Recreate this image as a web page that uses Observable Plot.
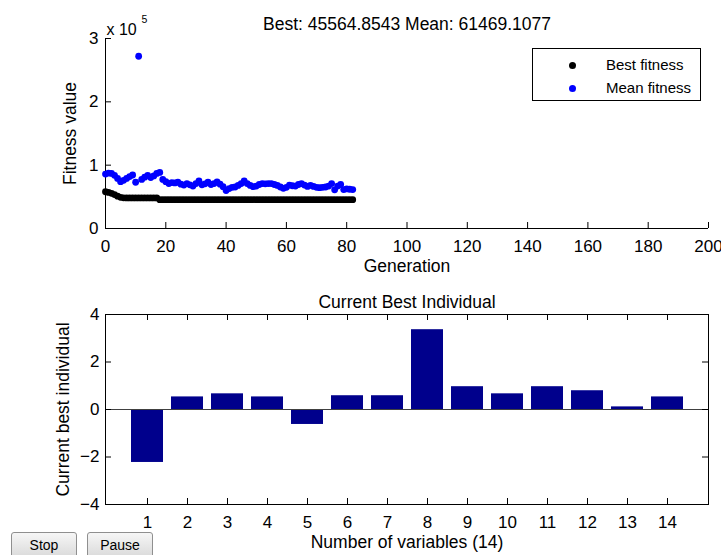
<!DOCTYPE html>
<html><head><meta charset="utf-8">
<script src="https://cdn.jsdelivr.net/npm/d3@7"></script>
<script src="https://cdn.jsdelivr.net/npm/@observablehq/plot@0.6"></script>
<style>
html,body{margin:0;padding:0;background:#fff;}
body{font-family:"Liberation Sans",Arial,Helvetica,sans-serif;}
#wrap{position:relative;width:721px;height:555px;overflow:hidden;background:#fff;}
#wrap svg{position:absolute;left:0;}
.legend{position:absolute;left:532px;top:48px;width:167px;height:51px;border:1px solid #000;background:#fff;font-size:15px;color:#000;}
.legend .row{position:absolute;left:0;height:20px;line-height:20px;}
.legend .mk{position:absolute;left:36px;top:6.5px;width:7px;height:7px;border-radius:50%;}
.legend .tx{position:absolute;left:73px;top:0;white-space:nowrap;}
.btn{position:absolute;top:532px;height:26px;width:66px;box-sizing:border-box;border:1px solid #8f8f8f;border-radius:3px;background:linear-gradient(#f6f6f6,#dadada);font-size:14px;text-align:center;line-height:24px;color:#000;}
</style>
</head><body>
<div id="wrap"></div>
<script>
// ---------- data ----------
const titleText = "Best: 45564.8543 Mean: 61469.1077";
const bestFitness = [
  58000, 57000, 55500, 53500, 51000, 49200, 48500,
  48300, 48300, 48300, 48300, 48300, 48300, 48300, 48300, 48300, 48300, 48300,
  45564.8543, 45564.8543, 45564.8543, 45564.8543, 45564.8543, 45564.8543, 45564.8543, 45564.8543, 45564.8543, 45564.8543,
  45564.8543, 45564.8543, 45564.8543, 45564.8543, 45564.8543, 45564.8543, 45564.8543, 45564.8543, 45564.8543, 45564.8543,
  45564.8543, 45564.8543, 45564.8543, 45564.8543, 45564.8543, 45564.8543, 45564.8543, 45564.8543, 45564.8543, 45564.8543,
  45564.8543, 45564.8543, 45564.8543, 45564.8543, 45564.8543, 45564.8543, 45564.8543, 45564.8543, 45564.8543, 45564.8543,
  45564.8543, 45564.8543, 45564.8543, 45564.8543, 45564.8543, 45564.8543, 45564.8543, 45564.8543, 45564.8543, 45564.8543,
  45564.8543, 45564.8543, 45564.8543, 45564.8543, 45564.8543, 45564.8543, 45564.8543, 45564.8543, 45564.8543, 45564.8543,
  45564.8543, 45564.8543, 45564.8543, 45564.8543, 45564.8543
];
const meanFitness = [
  86000, 87500, 87000, 84000, 79000, 74000, 76000, 79000, 82000, 84500,
  73000, 272000, 77500, 81000, 84000, 80500, 83000, 87000, 88500, 77500,
  74000, 71000, 72500, 72000, 73000, 70000, 68500, 71000, 69000, 67000,
  71000, 75000, 69000, 70500, 73000, 69500, 71000, 73500, 70000, 66000,
  60000, 63000, 65000, 65500, 68000, 71000, 75000, 71000, 68000, 66000,
  67000, 69500, 71000, 70500, 71000, 71000, 69500, 68000, 65500, 63500,
  65000, 68500, 67500, 67000, 69500, 71000, 68500, 66500, 68000, 66500,
  65000, 64500, 65000, 65500, 67000, 71000, 61000, 67000, 69500, 61500,
  62500, 62000, 61469.1077
];
const genTicks = [0, 20, 40, 60, 80, 100, 120, 140, 160, 180, 200];
const fitTicks = [0, 100000, 200000, 300000];
const variables = [1, 2, 3, 4, 5, 6, 7, 8, 9, 10, 11, 12, 13, 14];
const bestIndividual = [-2.23, 0.53, 0.66, 0.53, -0.63, 0.58, 0.58, 3.36, 0.96, 0.66, 0.96, 0.79, 0.11, 0.53];
const indTicks = [-4, -2, 0, 2, 4];

// ---------- layout/style ----------
const FONT = '"Liberation Sans", Arial, Helvetica, sans-serif';
const W = 721;
const TOP_H = 280, BOT_H = 275;
const ML = 105, MR = 13;
const PW = W - ML - MR;
const TICK = 6;

const bestData = bestFitness.map((v, i) => ({gen: i, v}));
const meanData = meanFitness.map((v, i) => ({gen: i, v}));
const barData = variables.map((k, i) => ({k, v: bestIndividual[i]}));

const topMT = 38, topMB = 52, topPH = TOP_H - topMT - topMB;
const topChart = Plot.plot({
  width: W, height: TOP_H,
  marginLeft: ML, marginRight: MR, marginTop: topMT, marginBottom: topMB,
  style: {fontFamily: FONT, fontSize: "17px", color: "#000", background: "transparent", overflow: "visible"},
  x: {domain: [0, 200]},
  y: {domain: [0, 300000]},
  marks: [
    Plot.axisX(genTicks, {tickSize: 0, tickPadding: 11, label: null}),
    Plot.axisY(fitTicks, {tickSize: 0, tickPadding: 7, label: null, tickFormat: d => String(d / 1e5)}),
    Plot.ruleX([0], {stroke: "#000"}),
    Plot.ruleY([0], {stroke: "#000"}),
    Plot.tickX(genTicks, {x: d => d, insetTop: topPH - TICK, stroke: "#000"}),
    Plot.tickY(fitTicks, {y: d => d, insetRight: PW - TICK, stroke: "#000"}),
    Plot.dot(bestData, {x: "gen", y: "v", r: 3.4, fill: "#000", stroke: null}),
    Plot.dot(meanData, {x: "gen", y: "v", r: 3.4, fill: "#0000ff", stroke: null}),
    Plot.text([titleText], {frameAnchor: "top", dy: -21, fontSize: 17.5}),
    Plot.text(["x 10"], {frameAnchor: "top-left", textAnchor: "start", dx: 1, dy: -14.8, fontSize: 16}),
    Plot.text(["5"], {frameAnchor: "top-left", textAnchor: "start", dx: 36, dy: -23, fontSize: 10.5}),
    Plot.text(["Generation"], {frameAnchor: "bottom", dy: 43, fontSize: 17.5}),
    Plot.text(["Fitness value"], {frameAnchor: "left", textAnchor: "middle", dx: -35, rotate: -90, fontSize: 17.5})
  ]
});
topChart.style.top = "0px";

const botMT = 34, botMB = 51, botPH = BOT_H - botMT - botMB;
const botChart = Plot.plot({
  width: W, height: BOT_H,
  marginLeft: ML, marginRight: MR, marginTop: botMT, marginBottom: botMB,
  style: {fontFamily: FONT, fontSize: "17px", color: "#000", background: "transparent", overflow: "visible"},
  x: {type: "band", domain: variables, paddingInner: 0.2, paddingOuter: 0.6},
  y: {domain: [-4, 4]},
  marks: [
    Plot.barY(barData, {x: "k", y1: 0, y2: "v", fill: "#00008c"}),
    Plot.ruleY([0], {stroke: "#404040", strokeWidth: 1.2}),
    Plot.axisX(variables, {tickSize: 0, tickPadding: 11, label: null}),
    Plot.axisY(indTicks, {tickSize: 0, tickPadding: 6, label: null}),
    Plot.frame({stroke: "#000"}),
    Plot.tickX(variables, {x: d => d, insetTop: botPH - TICK, stroke: "#000"}),
    Plot.tickX(variables, {x: d => d, insetBottom: botPH - TICK, stroke: "#000"}),
    Plot.tickY(indTicks, {y: d => d, insetRight: PW - TICK, stroke: "#000"}),
    Plot.tickY(indTicks, {y: d => d, insetLeft: PW - TICK, stroke: "#000"}),
    Plot.text(["Current Best Individual"], {frameAnchor: "top", dy: -19, fontSize: 17.5}),
    Plot.text(["Number of variables (14)"], {frameAnchor: "bottom", dy: 43, fontSize: 17.5}),
    Plot.text(["Current best individual"], {frameAnchor: "left", textAnchor: "middle", dx: -42.5, rotate: -90, fontSize: 17.5})
  ]
});
botChart.style.top = TOP_H + "px";

const wrap = document.getElementById("wrap");
wrap.appendChild(topChart);
wrap.appendChild(botChart);

// legend
const legend = document.createElement("div");
legend.className = "legend";
[["Best fitness", "#000", 6], ["Mean fitness", "#0000ff", 29]].forEach(([label, color, top]) => {
  const row = document.createElement("div");
  row.className = "row";
  row.style.top = top + "px";
  const mk = document.createElement("span");
  mk.className = "mk"; mk.style.background = color;
  const tx = document.createElement("span");
  tx.className = "tx"; tx.textContent = label;
  row.appendChild(mk); row.appendChild(tx);
  legend.appendChild(row);
});
wrap.appendChild(legend);

// buttons
[["Stop", 11], ["Pause", 87]].forEach(([label, left]) => {
  const b = document.createElement("div");
  b.className = "btn"; b.style.left = left + "px"; b.textContent = label;
  wrap.appendChild(b);
});
</script>
</body></html>
